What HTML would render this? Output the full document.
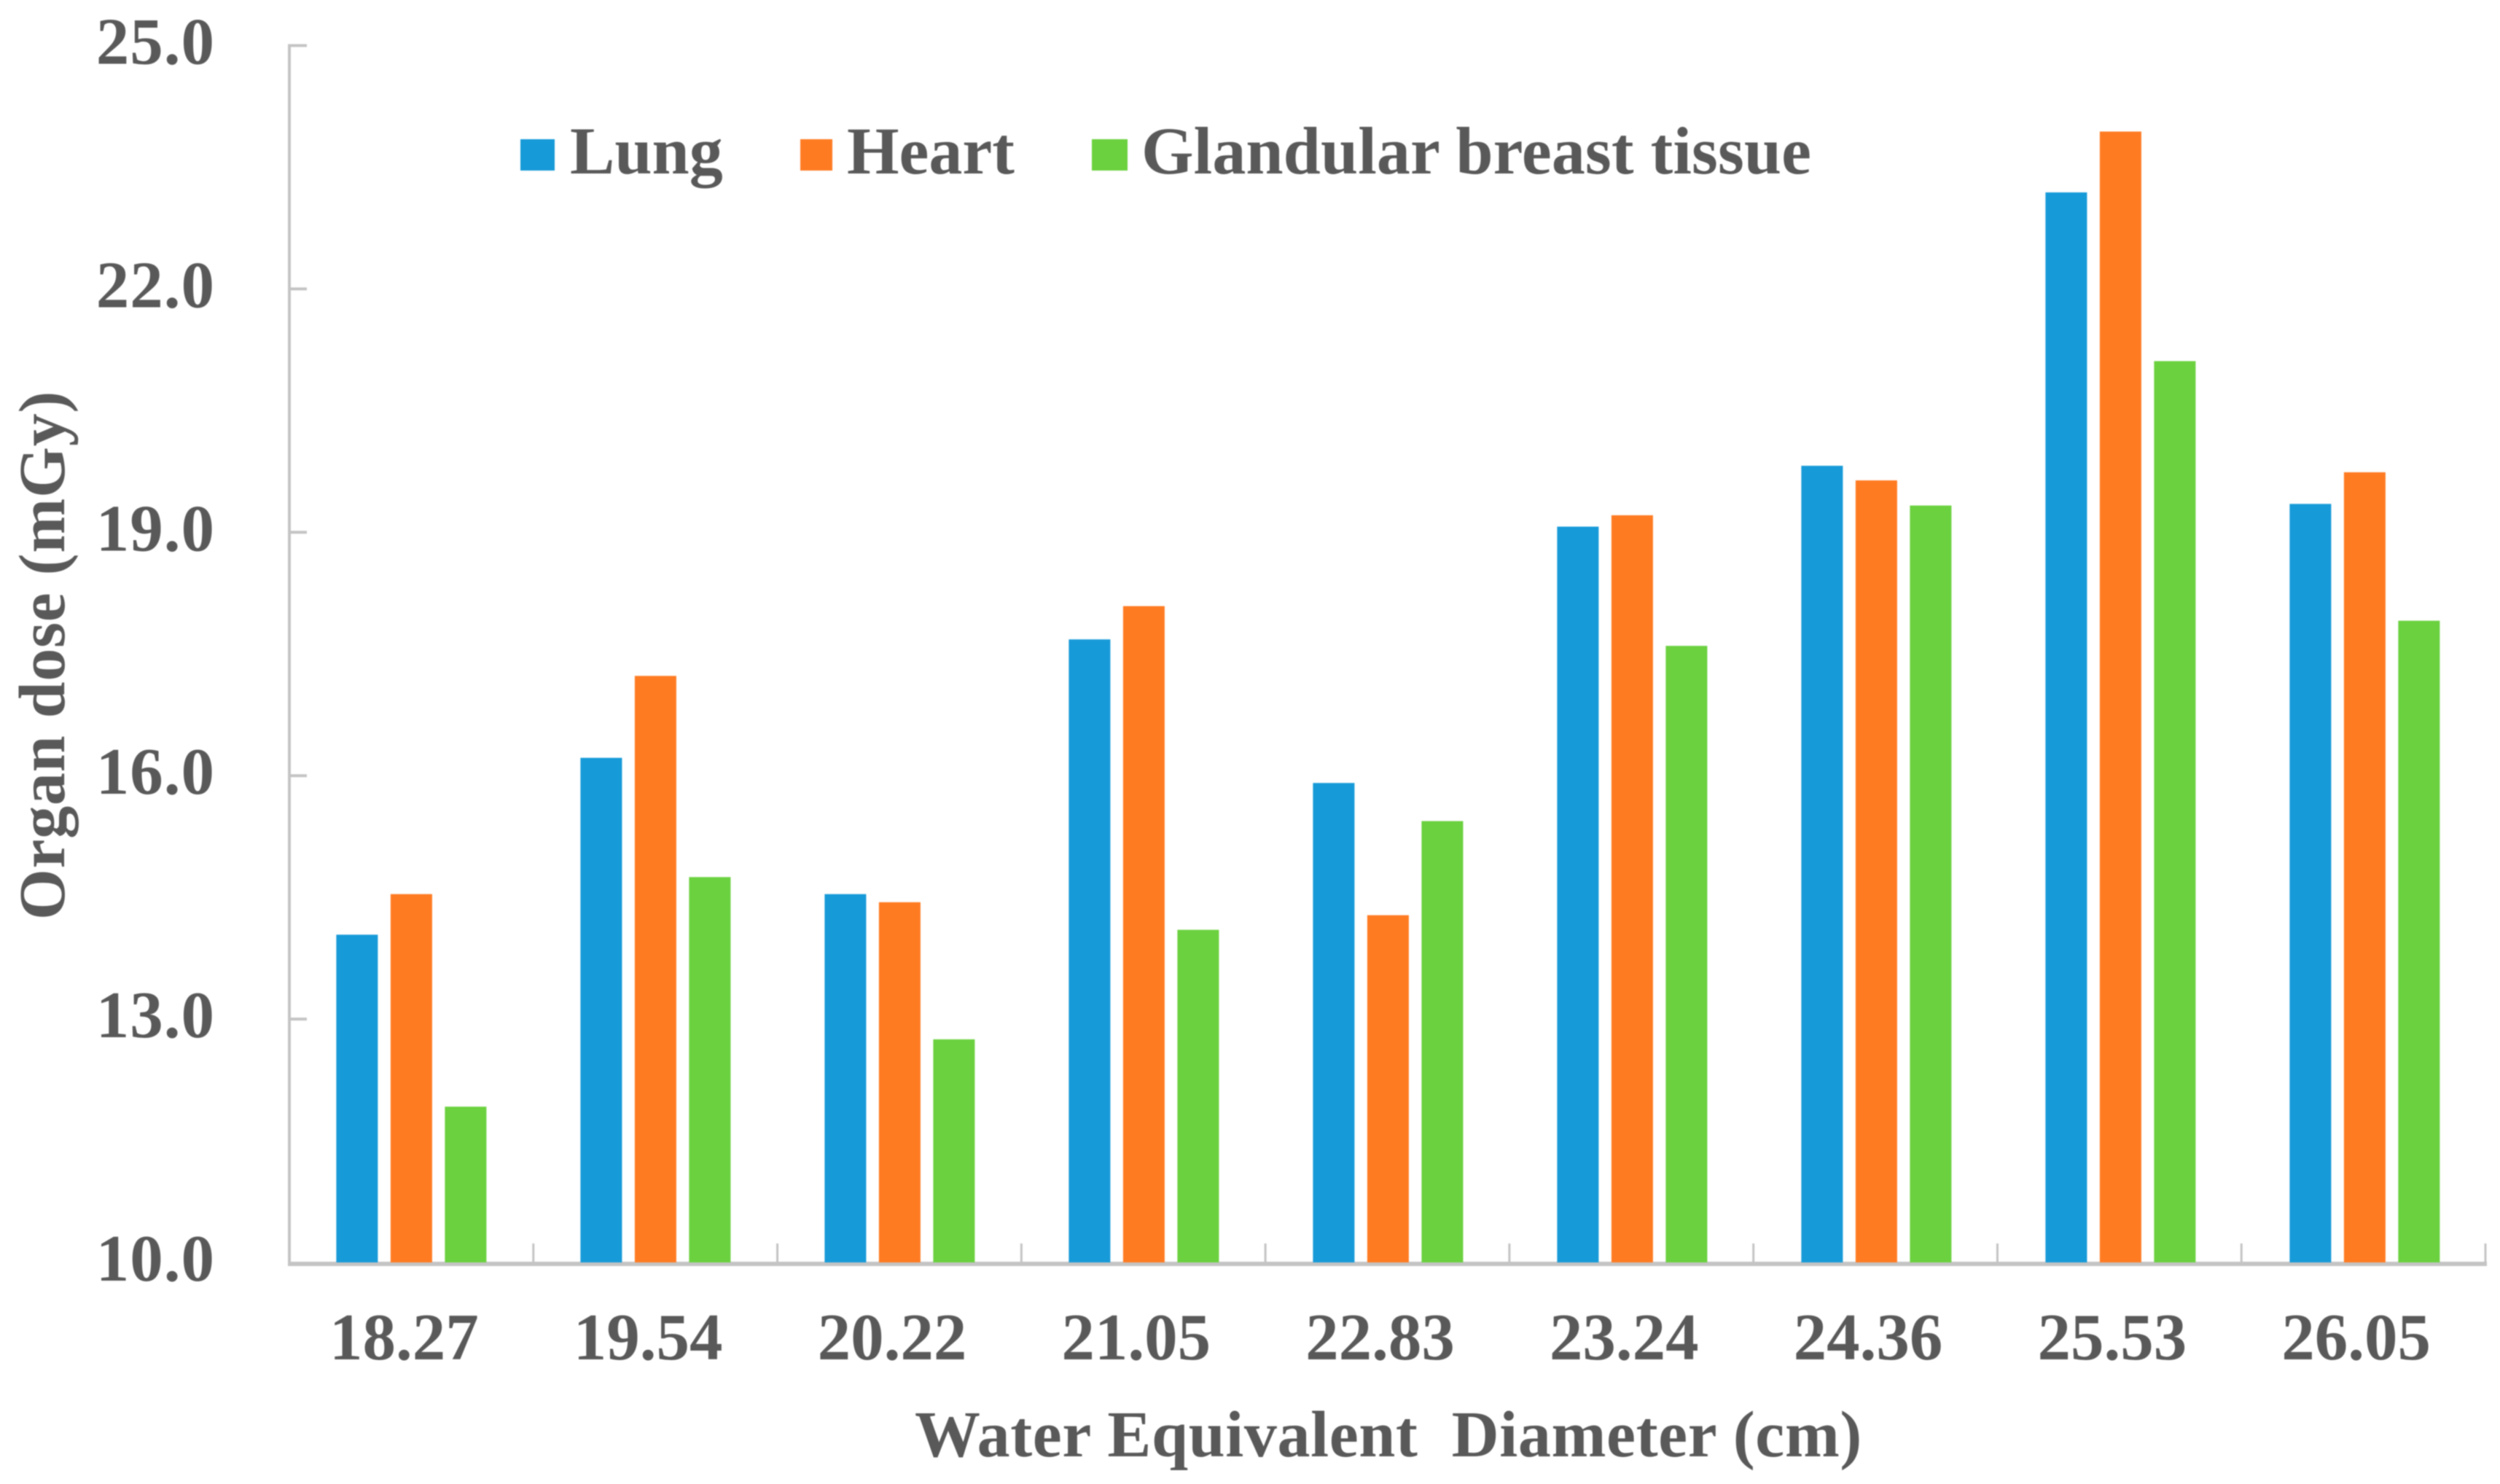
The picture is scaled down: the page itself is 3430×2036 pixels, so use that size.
<!DOCTYPE html>
<html lang="en">
<head>
<meta charset="utf-8">
<title>Organ dose by water equivalent diameter</title>
<style>
  html, body { margin: 0; padding: 0; background: #ffffff; }
  svg { display: block; filter: blur(0.9px); }
  text { font-family: "Liberation Serif", serif; font-weight: 700; fill: #595959; font-size: 91px; }
</style>
</head>
<body>
<svg id="chart" xmlns="http://www.w3.org/2000/svg" width="3430" height="2036" viewBox="0 0 3430 2036">
  <rect x="0" y="0" width="3430" height="2036" fill="#ffffff"/>
  <g id="axes"></g>
  <g id="bars"></g>
  <g id="labels"></g>
  <g>
    <rect x="714" y="191" width="47" height="43" fill="#179ad8"/>
    <text x="782" y="238" style="font-size:92px">Lung</text>
    <rect x="1098" y="191" width="44" height="43" fill="#ff7b22"/>
    <text x="1162" y="238" style="font-size:92px">Heart</text>
    <rect x="1498" y="191" width="49" height="43" fill="#6bd13f"/>
    <text x="1566" y="238" style="font-size:92px;letter-spacing:0.1px">Glandular breast tissue</text>
  </g>
  <text x="1905" y="1998" text-anchor="middle" style="font-size:90px;letter-spacing:0.6px" xml:space="preserve">Water Equivalent  Diameter (cm)</text>
  <text transform="translate(88,899) rotate(-90)" text-anchor="middle" style="font-size:90px;letter-spacing:0.7px">Organ dose (mGy)</text>
</svg>
<script>
const categories = ['18.27', '19.54', '20.22', '21.05', '22.83', '23.24', '24.36', '25.53', '26.05'];
const lung = [14.04, 16.22, 14.54, 17.68, 15.91, 19.07, 19.82, 23.19, 19.35];
const heart = [14.54, 17.23, 14.44, 18.09, 14.28, 19.21, 19.64, 23.94, 19.74];
const glandular = [11.92, 14.75, 12.75, 14.10, 15.44, 17.60, 19.33, 21.11, 17.91];
const yTicks = [10, 13, 16, 19, 22, 25];

const NS = 'http://www.w3.org/2000/svg';
const plotLeft = 397, plotRight = 3410, plotBottom = 1732, plotTop = 62.5;
const yMin = 10, yMax = 25;
const bandWidth = (plotRight - plotLeft) / categories.length;
const barWidth = 57, barPitch = 74.5;
const barBand = 335;
const labelShift = -10;

function xBand(i) { return plotLeft + bandWidth * i; }
function yScale(v) { return plotBottom - (v - yMin) / (yMax - yMin) * (plotBottom - plotTop); }

function make(tag, attrs, parent) {
  const node = document.createElementNS(NS, tag);
  for (const key in attrs) node.setAttribute(key, attrs[key]);
  parent.appendChild(node);
  return node;
}

const axes = document.getElementById('axes');
const bars = document.getElementById('bars');
const labels = document.getElementById('labels');
const axisColor = '#c4c4c4';

const yAxisLine = make('line', { x1: plotLeft, x2: plotLeft, y1: plotTop - 2, y2: plotBottom + 5, stroke: axisColor, 'stroke-width': 4 }, axes);



const xAxisLine = make('line', { x1: plotLeft - 2, x2: plotRight + 2, y1: plotBottom + 2, y2: plotBottom + 2, stroke: axisColor, 'stroke-width': 6 }, axes);



yTicks.forEach(function (v) {
  const y = yScale(v);
  if (v !== yMin) {
    const tick = make('line', { x1: plotLeft, x2: plotLeft + 24, y1: y, y2: y, stroke: axisColor, 'stroke-width': 4 }, axes);
    
    
  }
  const label = make('text', { x: 295, y: y + 25, 'text-anchor': 'end', style: 'letter-spacing:1px' }, labels);
  label.textContent = v.toFixed(1);
  
  
});

categories.forEach(function (c, i) {
  const xt = xBand(i + 1);
  const tick = make('line', { x1: xt, x2: xt, y1: plotBottom - 26, y2: plotBottom, stroke: axisColor, 'stroke-width': 3 }, axes);
  
  

  const label = make('text', { x: xBand(i) + bandWidth / 2 + labelShift, y: 1865, 'text-anchor': 'middle' }, labels);
  label.textContent = c;
  
  
});

const seriesNames = ['lung', 'heart', 'glandular'];
const seriesValues = [lung, heart, glandular];
const seriesColors = ['#179ad8', '#ff7b22', '#6bd13f'];

seriesValues.forEach(function (values, s) {
  values.forEach(function (v, i) {
    const cx = plotLeft + bandWidth / 2 + barBand * i + (s - 1) * barPitch;
    const top = yScale(v);
    const bar = make('rect', { x: cx - barWidth / 2, y: top, width: barWidth, height: plotBottom - top, fill: seriesColors[s] }, bars);
    
    
  });
});
</script>
</body>
</html>
